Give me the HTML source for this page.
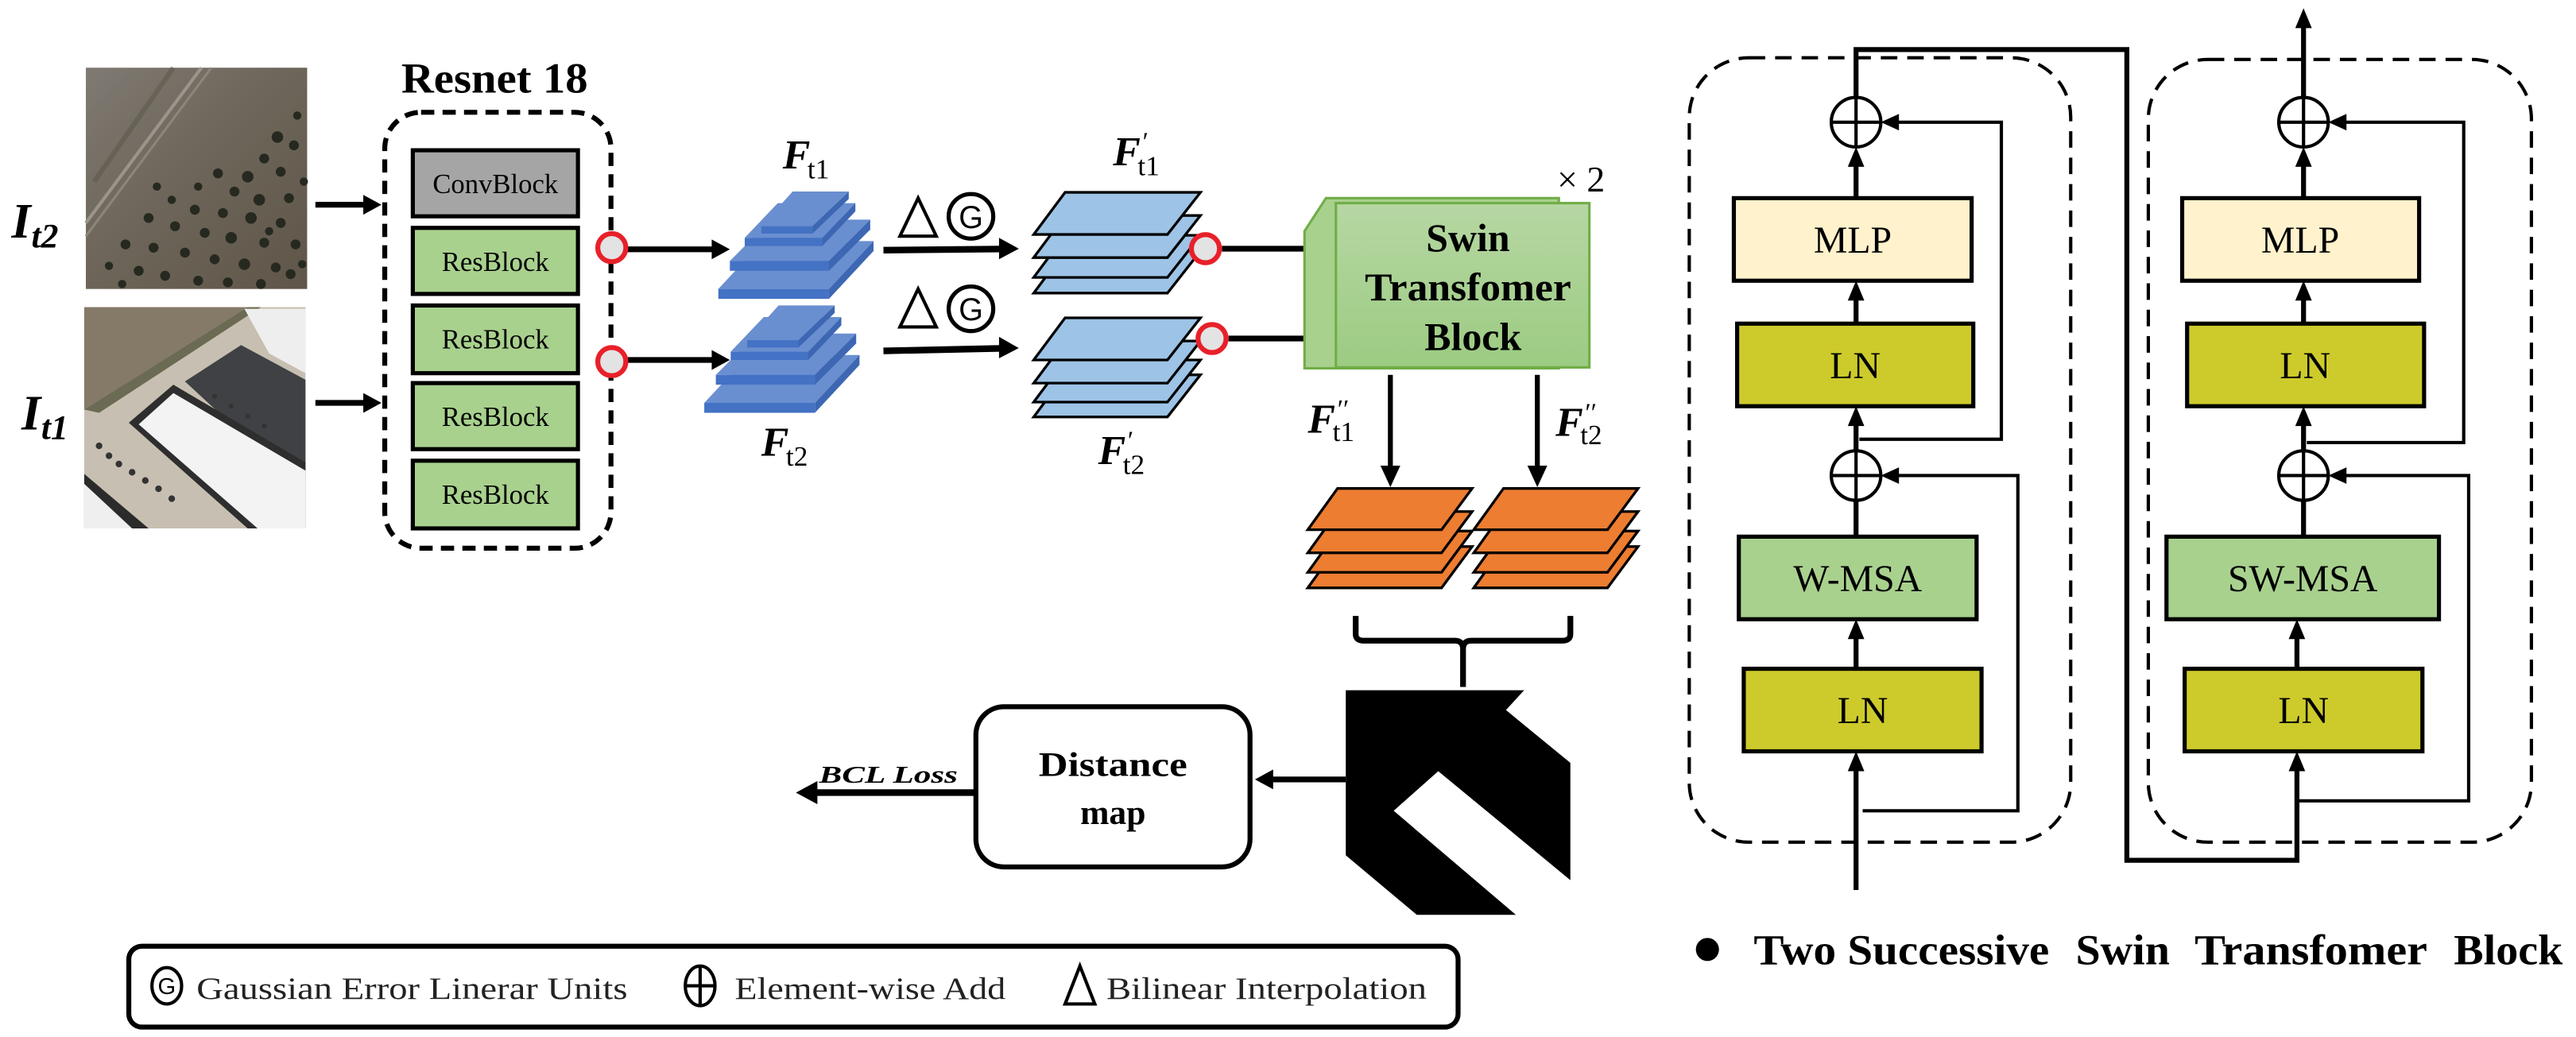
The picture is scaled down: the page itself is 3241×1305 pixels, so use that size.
<!DOCTYPE html>
<html><head><meta charset="utf-8"><style>
html,body{margin:0;padding:0;background:#fff;}
svg{display:block;}
text{font-family:"Liberation Serif",serif;}
</style></head><body>
<svg width="3241" height="1305" viewBox="0 0 1560 628" preserveAspectRatio="none" xmlns="http://www.w3.org/2000/svg">
<defs>
<linearGradient id="gsw" x1="0" y1="0" x2="0" y2="1"><stop offset="0" stop-color="#b6d7a3"/><stop offset="1" stop-color="#9ccb82"/></linearGradient>
<linearGradient id="gi2" x1="0" y1="0" x2="1" y2="1"><stop offset="0" stop-color="#7f7a73"/><stop offset="0.45" stop-color="#6e665a"/><stop offset="1" stop-color="#5f5649"/></linearGradient>
</defs>

<!-- I_t2 image -->
<rect x="52" y="41" width="134" height="134" fill="url(#gi2)"/>
<line x1="52" y1="135" x2="122" y2="41" stroke="#9a948a" stroke-width="2"/>
<line x1="52" y1="143" x2="128" y2="41" stroke="#8c857a" stroke-width="1.5"/>
<line x1="57" y1="110" x2="105" y2="41" stroke="#5a5548" stroke-width="3" opacity="0.5"/>
<g fill="#26291f">
<circle cx="168" cy="83" r="3.5"/><circle cx="178" cy="88" r="3"/><circle cx="160" cy="96" r="3"/><circle cx="150" cy="107" r="3.5"/><circle cx="170" cy="104" r="3"/><circle cx="132" cy="105" r="3"/><circle cx="120" cy="113" r="2.5"/><circle cx="142" cy="116" r="3"/><circle cx="157" cy="121" r="3.5"/><circle cx="175" cy="120" r="3"/><circle cx="104" cy="121" r="2.5"/><circle cx="118" cy="127" r="3"/><circle cx="135" cy="129" r="3"/><circle cx="152" cy="132" r="3.5"/><circle cx="170" cy="135" r="3"/><circle cx="90" cy="132" r="3"/><circle cx="106" cy="137" r="3"/><circle cx="124" cy="141" r="3"/><circle cx="140" cy="144" r="3.5"/><circle cx="160" cy="147" r="3"/><circle cx="179" cy="148" r="3"/><circle cx="76" cy="148" r="3"/><circle cx="93" cy="150" r="3"/><circle cx="112" cy="153" r="3"/><circle cx="130" cy="157" r="3"/><circle cx="148" cy="160" r="3.5"/><circle cx="167" cy="162" r="3"/><circle cx="66" cy="161" r="2.5"/><circle cx="84" cy="164" r="3"/><circle cx="100" cy="167" r="3"/><circle cx="120" cy="170" r="3"/><circle cx="138" cy="171" r="3"/><circle cx="158" cy="172" r="3"/><circle cx="176" cy="166" r="3"/><circle cx="180" cy="70" r="2.5"/><circle cx="184" cy="110" r="2.5"/><circle cx="163" cy="140" r="2.5"/><circle cx="95" cy="113" r="2.5"/><circle cx="74" cy="172" r="2.5"/><circle cx="183" cy="160" r="2.5"/>
</g>

<!-- I_t1 image -->
<rect x="51" y="186" width="134" height="134" fill="#c7bfb1"/>
<polygon points="51,186 150,186 51,248" fill="#857a68"/>
<polygon points="51,248 150,186 158,186 60,250" fill="#6b6a52"/>
<polygon points="112,231 146,209 185,230 185,292 165,280" fill="#3f4144"/>
<polygon points="148,187 185,187 185,226 163,214" fill="#eeeeee"/>
<polygon points="78,256 105,233 185,280 185,320 150,320" fill="#2e2e2e"/>
<polygon points="84,257 105,238 185,285 185,320 156,320" fill="#f3f3f3"/>
<polygon points="51,287 51,320 90,320" fill="#2b2b2b"/>
<polygon points="51,293 51,320 80,320" fill="#efefef"/>
<g fill="#333"><circle cx="60" cy="270" r="2"/><circle cx="66" cy="276" r="2"/><circle cx="72" cy="281" r="2"/><circle cx="80" cy="286" r="2"/><circle cx="88" cy="291" r="2"/><circle cx="96" cy="296" r="2"/><circle cx="104" cy="302" r="2"/><circle cx="130" cy="240" r="1.5"/><circle cx="140" cy="246" r="1.5"/><circle cx="150" cy="252" r="1.5"/><circle cx="160" cy="258" r="1.5"/></g>

<!-- labels I -->
<text x="7" y="144" font-size="30" font-weight="bold" font-style="italic">I</text>
<text x="19" y="150" font-size="21" font-weight="bold" font-style="italic">t2</text>
<text x="13" y="260" font-size="30" font-weight="bold" font-style="italic">I</text>
<text x="25" y="266" font-size="21" font-weight="bold" font-style="italic">t1</text>

<!-- input arrows -->
<line x1="191" y1="124" x2="222" y2="124" stroke="#000" stroke-width="3.5"/>
<polygon points="231,124 220,118 220,130" fill="#000"/>
<line x1="191" y1="244" x2="222" y2="244" stroke="#000" stroke-width="3.5"/>
<polygon points="231,244 220,238 220,250" fill="#000"/>

<!-- Resnet -->
<text x="243" y="56" font-size="26" font-weight="bold" textLength="113" lengthAdjust="spacingAndGlyphs">Resnet 18</text>
<rect x="233" y="68" width="137" height="264" rx="22" fill="none" stroke="#000" stroke-width="3" stroke-dasharray="8 5"/>
<rect x="250" y="91" width="100" height="40" fill="#a5a5a5" stroke="#000" stroke-width="2.5"/>
<text x="300" y="117" font-size="17" text-anchor="middle" textLength="76" lengthAdjust="spacingAndGlyphs">ConvBlock</text>
<g fill="#a9d18e" stroke="#000" stroke-width="2.5">
<rect x="250" y="138" width="100" height="40"/><rect x="250" y="185" width="100" height="41"/><rect x="250" y="232" width="100" height="40"/><rect x="250" y="279" width="100" height="41"/>
</g>
<g font-size="17" text-anchor="middle">
<text x="300" y="164" textLength="65" lengthAdjust="spacingAndGlyphs">ResBlock</text>
<text x="300" y="211" textLength="65" lengthAdjust="spacingAndGlyphs">ResBlock</text>
<text x="300" y="258" textLength="65" lengthAdjust="spacingAndGlyphs">ResBlock</text>
<text x="300" y="305" textLength="65" lengthAdjust="spacingAndGlyphs">ResBlock</text>
</g>
<line x1="380" y1="151" x2="432" y2="151" stroke="#000" stroke-width="3.5"/>
<polygon points="442,151 431,145 431,157" fill="#000"/>
<line x1="380" y1="218" x2="432" y2="218" stroke="#000" stroke-width="3.5"/>
<polygon points="442,218 431,212 431,224" fill="#000"/>
<circle cx="370.5" cy="150" r="8.5" fill="#e3e3e3" stroke="#e8202a" stroke-width="3"/>
<circle cx="370.5" cy="219" r="8.5" fill="#e3e3e3" stroke="#e8202a" stroke-width="3"/>

<!-- F blue stacks -->
<g id="fst">
<polygon points="435,175 462,146 529,146 502,175" fill="#6a8fd0"/><polygon points="435,175 502,175 502,181 435,181" fill="#4472c4"/><polygon points="502,175 529,146 529,152 502,181" fill="#3d67b2"/>
<polygon points="442,158 467,133 527,133 502,158" fill="#6a8fd0"/><polygon points="442,158 502,158 502,164 442,164" fill="#4472c4"/><polygon points="502,158 527,133 527,139 502,164" fill="#3d67b2"/>
<polygon points="451,144 471,123 518,123 498,144" fill="#6a8fd0"/><polygon points="451,144 498,144 498,149 451,149" fill="#4472c4"/><polygon points="498,144 518,123 518,128 498,149" fill="#3d67b2"/>
<polygon points="461,137 480,116 514,116 492,137" fill="#6a8fd0"/><polygon points="461,137 492,137 492,141.5 461,141.5" fill="#4472c4"/><polygon points="492,137 514,116 514,120.5 492,141.5" fill="#3d67b2"/>
</g>
<g transform="translate(-8.5,69)">
<polygon points="435,175 462,146 529,146 502,175" fill="#6a8fd0"/><polygon points="435,175 502,175 502,181 435,181" fill="#4472c4"/><polygon points="502,175 529,146 529,152 502,181" fill="#3d67b2"/>
<polygon points="442,158 467,133 527,133 502,158" fill="#6a8fd0"/><polygon points="442,158 502,158 502,164 442,164" fill="#4472c4"/><polygon points="502,158 527,133 527,139 502,164" fill="#3d67b2"/>
<polygon points="451,144 471,123 518,123 498,144" fill="#6a8fd0"/><polygon points="451,144 498,144 498,149 451,149" fill="#4472c4"/><polygon points="498,144 518,123 518,128 498,149" fill="#3d67b2"/>
<polygon points="461,137 480,116 514,116 492,137" fill="#6a8fd0"/><polygon points="461,137 492,137 492,141.5 461,141.5" fill="#4472c4"/><polygon points="492,137 514,116 514,120.5 492,141.5" fill="#3d67b2"/>
</g>
<text x="474" y="102" font-size="25" font-weight="bold" font-style="italic">F</text>
<text x="489" y="108" font-size="17">t1</text>
<text x="461" y="276" font-size="25" font-weight="bold" font-style="italic">F</text>
<text x="476" y="282" font-size="17">t2</text>

<!-- ΔG -->
<polygon points="556,120 545,143 567,143" fill="none" stroke="#000" stroke-width="2"/>
<circle cx="588" cy="131" r="13.5" fill="none" stroke="#000" stroke-width="2.5"/>
<text x="588" y="138" font-size="19" text-anchor="middle" font-family="Liberation Sans, sans-serif" style="font-family:'Liberation Sans',sans-serif">G</text>
<polygon points="556,175 545,198 567,198" fill="none" stroke="#000" stroke-width="2"/>
<circle cx="588" cy="187" r="13.5" fill="none" stroke="#000" stroke-width="2.5"/>
<text x="588" y="194" font-size="19" text-anchor="middle" style="font-family:'Liberation Sans',sans-serif">G</text>
<line x1="535" y1="151.5" x2="606" y2="150.8" stroke="#000" stroke-width="4"/>
<polygon points="617,150.6 605,144 605,157" fill="#000"/>
<line x1="535" y1="212.5" x2="606" y2="211" stroke="#000" stroke-width="4"/>
<polygon points="617,210.8 605,204 605,217" fill="#000"/>

<!-- F' stacks -->
<g fill="#9dc3e6" stroke="#000" stroke-width="1.6">
<polygon points="626,177.5 645,152 727,152 707,177.5"/>
<polygon points="626,168 645,142.5 727,142.5 707,168"/>
<polygon points="626,156 645,130.5 727,130.5 707,156"/>
<polygon points="626,142 645,116.5 727,116.5 707,142"/>
<polygon points="626,252.5 645,227 727,227 707,252.5"/>
<polygon points="626,243.5 645,218 727,218 707,243.5"/>
<polygon points="626,232 645,206.5 727,206.5 707,232"/>
<polygon points="626,218 645,192.5 727,192.5 707,218"/>
</g>
<text x="674" y="100" font-size="25" font-weight="bold" font-style="italic">F</text>
<text x="691" y="91" font-size="16" font-style="italic">′</text>
<text x="689" y="106" font-size="17">t1</text>
<text x="665" y="281" font-size="25" font-weight="bold" font-style="italic">F</text>
<text x="682" y="272" font-size="16" font-style="italic">′</text>
<text x="680" y="287" font-size="17">t2</text>
<line x1="740" y1="150.6" x2="792" y2="150.6" stroke="#000" stroke-width="3.5"/>
<polygon points="802,150.6 790,144 790,157" fill="#000"/>
<line x1="744" y1="205" x2="792" y2="205" stroke="#000" stroke-width="3.5"/>
<polygon points="802,205 790,198.5 790,211.5" fill="#000"/>
<circle cx="730" cy="150.6" r="8.5" fill="#e3e3e3" stroke="#e8202a" stroke-width="3"/>
<circle cx="734" cy="205" r="8.5" fill="#e3e3e3" stroke="#e8202a" stroke-width="3"/>

<!-- Swin block -->
<polygon points="790,140 803,120 944,120 944,223 790,223" fill="#a9d18e" stroke="#70ad47" stroke-width="1.5"/>
<rect x="809" y="123" width="153.5" height="99.5" fill="url(#gsw)" stroke="#70ad47" stroke-width="1.5"/>
<g font-size="24" font-weight="bold" text-anchor="middle">
<text x="889" y="152">Swin</text>
<text x="889" y="182" textLength="125" lengthAdjust="spacingAndGlyphs">Transfomer</text>
<text x="892" y="212">Block</text>
</g>
<text x="943" y="116" font-size="22">× 2</text>

<!-- down arrows -->
<line x1="842" y1="227" x2="842" y2="284" stroke="#000" stroke-width="3"/>
<polygon points="842,295 836,282 848,282" fill="#000"/>
<line x1="931" y1="227" x2="931" y2="284" stroke="#000" stroke-width="3"/>
<polygon points="931,295 925,282 937,282" fill="#000"/>
<text x="792" y="262" font-size="25" font-weight="bold" font-style="italic">F</text>
<text x="809" y="253" font-size="16" font-style="italic">′′</text>
<text x="807" y="267" font-size="17">t1</text>
<text x="942" y="264" font-size="25" font-weight="bold" font-style="italic">F</text>
<text x="959" y="255" font-size="16" font-style="italic">′′</text>
<text x="957" y="269" font-size="17">t2</text>

<!-- orange stacks -->
<g fill="#ed7d31" stroke="#000" stroke-width="1.6">
<polygon points="792,356 810,331 891.5,331 873,356"/>
<polygon points="792,346.6 810,321.6 891.5,321.6 873,346.6"/>
<polygon points="792,334.8 810,309.8 891.5,309.8 873,334.8"/>
<polygon points="792,320.8 810,295.8 891.5,295.8 873,320.8"/>
<polygon points="892.5,356 910.5,331 992,331 973.5,356"/>
<polygon points="892.5,346.6 910.5,321.6 992,321.6 973.5,346.6"/>
<polygon points="892.5,334.8 910.5,309.8 992,309.8 973.5,334.8"/>
<polygon points="892.5,320.8 910.5,295.8 992,295.8 973.5,320.8"/>
</g>

<!-- brace -->
<path d="M821,373 L821,384 Q821,388 826,388 L881,388 Q886,388 886,393 L886,416 M886,393 Q886,388 891,388 L946,388 Q951,388 951,384 L951,373" fill="none" stroke="#000" stroke-width="3.5"/>

<!-- change map -->
<polygon points="815,418 923,418 912,430 951,462 951,533 871,467 844,491 918,554 858,554 815,518" fill="#000"/>

<!-- arrow to distance map -->
<line x1="815" y1="472" x2="770" y2="472" stroke="#000" stroke-width="3.5"/>
<polygon points="760,472 771,466 771,478" fill="#000"/>
<rect x="591" y="428" width="166" height="97" rx="17" fill="#fff" stroke="#000" stroke-width="3"/>
<text x="674" y="470" font-size="21" font-weight="bold" text-anchor="middle" textLength="90" lengthAdjust="spacingAndGlyphs">Distance</text>
<text x="674" y="499" font-size="21" font-weight="bold" text-anchor="middle">map</text>
<line x1="591" y1="480" x2="494" y2="480" stroke="#000" stroke-width="4"/>
<polygon points="482,480 495,473 495,487" fill="#000"/>
<text x="496" y="474" font-size="15" font-weight="bold" font-style="italic" textLength="84" lengthAdjust="spacingAndGlyphs">BCL Loss</text>

<!-- legend -->
<rect x="78" y="573" width="805" height="49" rx="8" fill="#fff" stroke="#000" stroke-width="3"/>
<ellipse cx="101" cy="597" rx="9" ry="11" fill="none" stroke="#000" stroke-width="2"/>
<text x="101" y="602" font-size="14" text-anchor="middle" style="font-family:'Liberation Sans',sans-serif">G</text>
<text x="119" y="605" font-size="19" fill="#222" textLength="261" lengthAdjust="spacingAndGlyphs">Gaussian Error Linerar Units</text>
<ellipse cx="424" cy="597" rx="9" ry="12" fill="none" stroke="#000" stroke-width="2"/>
<line x1="415" y1="597" x2="433" y2="597" stroke="#000" stroke-width="2"/>
<line x1="424" y1="585" x2="424" y2="609" stroke="#000" stroke-width="2"/>
<text x="445" y="605" font-size="19" fill="#222" textLength="164" lengthAdjust="spacingAndGlyphs">Element-wise Add</text>
<polygon points="654,585 645,608 663,608" fill="none" stroke="#000" stroke-width="2"/>
<text x="670" y="605" font-size="19" fill="#222" textLength="194" lengthAdjust="spacingAndGlyphs">Bilinear Interpolation</text>

<!-- RIGHT PANEL -->
<rect x="1023" y="35" width="231" height="475" rx="36" fill="none" stroke="#000" stroke-width="2" stroke-dasharray="10 6"/>
<rect x="1301" y="36" width="232" height="474" rx="36" fill="none" stroke="#000" stroke-width="2" stroke-dasharray="10 6"/>

<g stroke="#000" stroke-width="2.5">
<rect x="1050" y="120" width="144" height="50" fill="#fff2cc"/>
<rect x="1052" y="196" width="143" height="50" fill="#cdcb2b"/>
<rect x="1053" y="325" width="144" height="50" fill="#a9d18e"/>
<rect x="1056" y="405" width="144" height="50" fill="#cdcb2b"/>
<rect x="1321.5" y="120" width="143.5" height="50" fill="#fff2cc"/>
<rect x="1324.5" y="196" width="143.5" height="50" fill="#cdcb2b"/>
<rect x="1312" y="325" width="165" height="50" fill="#a9d18e"/>
<rect x="1323" y="405" width="144" height="50" fill="#cdcb2b"/>
</g>
<g font-size="23" text-anchor="middle">
<text x="1122" y="153">MLP</text>
<text x="1123.5" y="229">LN</text>
<text x="1125" y="358">W-MSA</text>
<text x="1128" y="438">LN</text>
<text x="1393" y="153">MLP</text>
<text x="1396" y="229">LN</text>
<text x="1394.5" y="358">SW-MSA</text>
<text x="1395" y="438">LN</text>
</g>

<g fill="none" stroke="#000">
<!-- left column -->
<path d="M1124,539 L1124,466" stroke-width="3"/>
<path d="M1124,405 L1124,386" stroke-width="3"/>
<path d="M1124,325 L1124,303" stroke-width="3"/>
<path d="M1124,273 L1124,257" stroke-width="3"/>
<path d="M1124,196 L1124,181" stroke-width="3"/>
<path d="M1124,120 L1124,100" stroke-width="3"/>
<path d="M1126,266 L1212,266 L1212,74 L1148,74" stroke-width="2"/>
<path d="M1128,491 L1222,491 L1222,288 L1148,288" stroke-width="2"/>
<path d="M1124,59 L1124,30 L1288,30 L1288,521 L1391,521 L1391,466" stroke-width="3"/>
<circle cx="1124" cy="74" r="15" stroke-width="2"/>
<circle cx="1124" cy="288" r="15" stroke-width="2"/>
<!-- right column -->
<path d="M1391,405 L1391,386" stroke-width="3"/>
<path d="M1395,325 L1395,303" stroke-width="3"/>
<path d="M1395,273 L1395,257" stroke-width="3"/>
<path d="M1395,196 L1395,181" stroke-width="3"/>
<path d="M1395,120 L1395,100" stroke-width="3"/>
<path d="M1395,59 L1395,16" stroke-width="3"/>
<path d="M1397,268 L1492,268 L1492,74 L1419,74" stroke-width="2"/>
<path d="M1391,485 L1495,485 L1495,288 L1419,288" stroke-width="2"/>
<circle cx="1395" cy="74" r="15" stroke-width="2"/>
<circle cx="1395" cy="288" r="15" stroke-width="2"/>
</g>
<g stroke="#000" stroke-width="2">
<line x1="1109" y1="74" x2="1139" y2="74"/><line x1="1124" y1="59" x2="1124" y2="89"/>
<line x1="1109" y1="288" x2="1139" y2="288"/><line x1="1124" y1="273" x2="1124" y2="303"/>
<line x1="1380" y1="74" x2="1410" y2="74"/><line x1="1395" y1="59" x2="1395" y2="89"/>
<line x1="1380" y1="288" x2="1410" y2="288"/><line x1="1395" y1="273" x2="1395" y2="303"/>
</g>
<g fill="#000">
<polygon points="1124,455 1119,467 1129,467"/>
<polygon points="1124,375 1119,387 1129,387"/>
<polygon points="1124,246 1119,258 1129,258"/>
<polygon points="1124,170 1119,182 1129,182"/>
<polygon points="1124,89 1119,101 1129,101"/>
<polygon points="1139,74 1150,69 1150,79"/>
<polygon points="1139,288 1150,283 1150,293"/>
<polygon points="1391,455 1386,467 1396,467"/>
<polygon points="1391,375 1386,387 1396,387"/>
<polygon points="1395,246 1390,258 1400,258"/>
<polygon points="1395,170 1390,182 1400,182"/>
<polygon points="1395,89 1390,101 1400,101"/>
<polygon points="1395,5 1390,17 1400,17"/>
<polygon points="1410,74 1421,69 1421,79"/>
<polygon points="1410,288 1421,283 1421,293"/>
</g>

<!-- caption -->
<circle cx="1034" cy="575" r="7" fill="#000"/>
<g font-size="26" font-weight="bold">
<text x="1062" y="584" textLength="179" lengthAdjust="spacingAndGlyphs">Two Successive</text>
<text x="1257" y="584" textLength="57" lengthAdjust="spacingAndGlyphs">Swin</text>
<text x="1329" y="584" textLength="141" lengthAdjust="spacingAndGlyphs">Transfomer</text>
<text x="1486" y="584" textLength="66" lengthAdjust="spacingAndGlyphs">Block</text>
</g>
</svg>
</body></html>
